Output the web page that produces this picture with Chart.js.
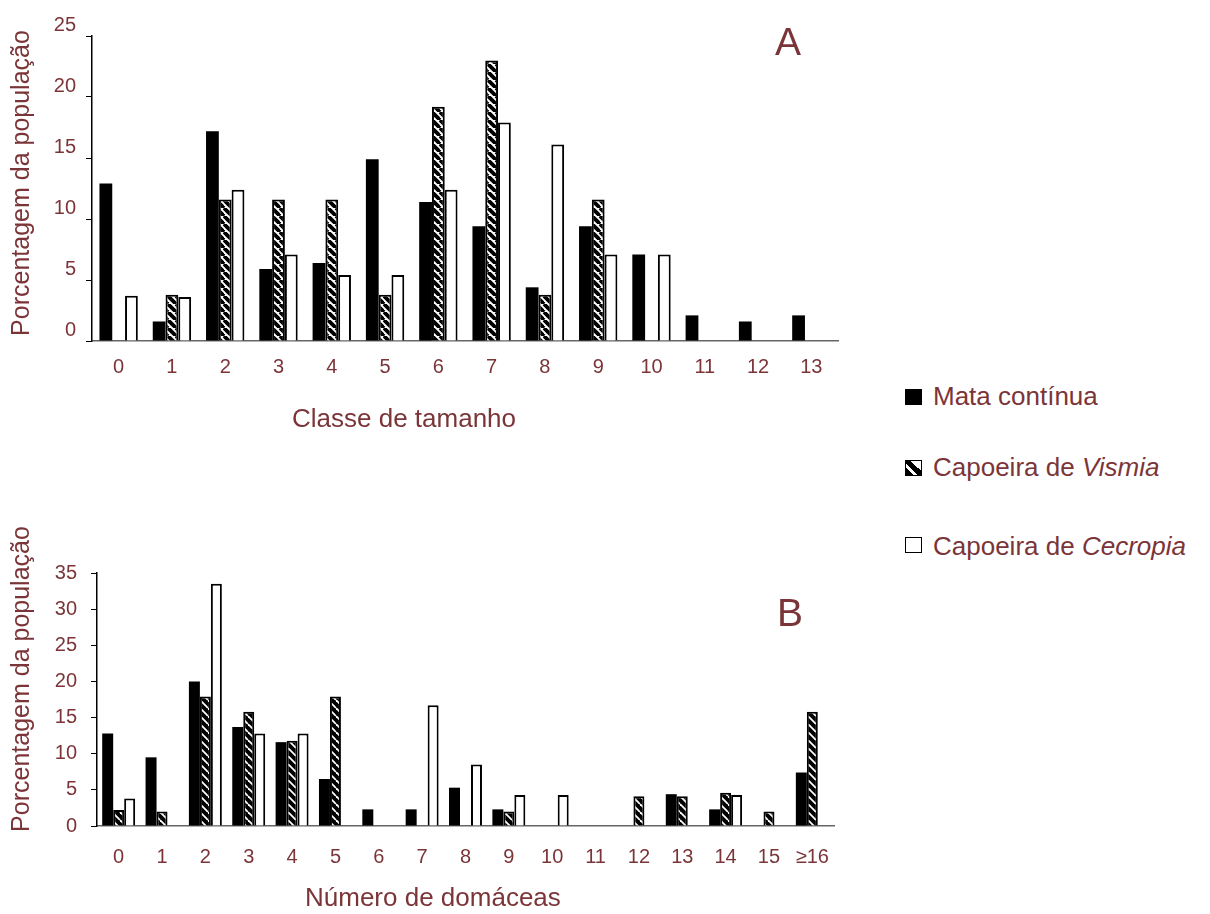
<!DOCTYPE html>
<html><head><meta charset="utf-8">
<script src="https://cdn.jsdelivr.net/npm/chart.js@4"></script>
<style>
html,body{margin:0;padding:0;background:#fff;width:1210px;height:914px;overflow:hidden;font-family:'Liberation Sans',Arial,sans-serif;}
#c1{position:absolute;left:0;top:0;}
#c2{position:absolute;left:0;top:500px;}
.leg{position:absolute;left:933px;font-size:26px;line-height:30px;color:#7b3538;white-space:nowrap;}
.sw{position:absolute;left:905px;width:17px;height:16px;box-sizing:border-box;border:1.5px solid #000;}
</style></head>
<body>
<canvas id="c1" width="880" height="440"></canvas>
<canvas id="c2" width="880" height="414"></canvas>

<div class="sw" style="top:389px;background:#000;"></div>
<div class="leg" style="top:381px;">Mata contínua</div>
<div class="sw" style="top:460px;background:linear-gradient(to top right,#000 0 25%,#fff 25% 40%,#000 40% 65%,#fff 65%);"></div>
<div class="leg" style="top:452px;">Capoeira de <i>Vismia</i></div>
<div class="sw" style="top:537px;background:#fff;"></div>
<div class="leg" style="top:531px;">Capoeira de <i>Cecropia</i></div>

<script>
// ---- Panel A: Classe de tamanho ----
const categoriesA = ['0','1','2','3','4','5','6','7','8','9','10','11','12','13'];
const mataA     = [12.9, 1.6, 17.2, 5.9, 6.4, 14.9, 11.4, 9.4, 4.4, 9.4, 7.1, 2.1, 1.6, 2.1];
const vismiaA   = [null, 3.8, 11.6, 11.6, 11.6, 3.8, 19.2, 23.0, 3.8, 11.6, null, null, null, null];
const cecropiaA = [3.7, 3.6, 12.4, 7.1, 5.4, 5.4, 12.4, 17.9, 16.1, 7.1, 7.1, null, null, null];
const yTicksA   = [0, 5, 10, 15, 20, 25];

// ---- Panel B: Número de domáceas ----
const categoriesB = ['0','1','2','3','4','5','6','7','8','9','10','11','12','13','14','15','≥16'];
const mataB     = [12.8, 9.5, 20.0, 13.7, 11.6, 6.5, 2.3, 2.3, 5.3, 2.3, null, null, null, 4.4, 2.3, null, 7.4];
const vismiaB   = [2.2, 2.0, 17.9, 15.8, 11.8, 17.9, null, null, null, 2.0, null, null, 4.1, 4.1, 4.6, 2.0, 15.8];
const cecropiaB = [3.8, null, 33.5, 12.8, 12.8, null, null, 16.7, 8.5, 4.3, 4.3, null, null, null, 4.3, null, null];
const yTicksB   = [0, 5, 10, 15, 20, 25, 30, 35];

const seriesNames = ['Mata contínua', 'Capoeira de Vismia', 'Capoeira de Cecropia'];
const yTitle = 'Porcentagem da população';
const xTitleA = 'Classe de tamanho';
const xTitleB = 'Número de domáceas';

const MAROON = '#7b3538';
const FONT = "'Liberation Sans', Arial, sans-serif";

function makePattern(bg, fg, size, lw) {
  const c = document.createElement('canvas');
  c.width = size; c.height = size;
  const g = c.getContext('2d');
  g.fillStyle = bg; g.fillRect(0, 0, size, size);
  g.strokeStyle = fg; g.lineWidth = lw;
  for (const o of [-size, 0, size]) {
    g.beginPath(); g.moveTo(o, 0); g.lineTo(o + size, size); g.stroke();
  }
  return g.createPattern(c, 'repeat');
}

const textPlugin = {
  id: 'panelText',
  afterDraw(chart, args, opts) {
    const ctx = chart.ctx;
    for (const t of opts.items || []) {
      ctx.save();
      ctx.font = t.font;
      ctx.fillStyle = MAROON;
      ctx.textAlign = t.align || 'left';
      ctx.textBaseline = 'alphabetic';
      ctx.translate(t.x, t.y);
      if (t.rot) ctx.rotate(t.rot);
      ctx.fillText(t.text, 0, 0);
      ctx.restore();
    }
  }
};

function build(id, cats, mata, vismia, cecropia, yTicks, g) {
  const hatch = makePattern(g.hatchBg, g.hatchFg, g.hatchSize, g.hatchLw);
  return new Chart(document.getElementById(id), {
    type: 'bar',
    data: {
      labels: cats,
      datasets: [
        { label: seriesNames[0], data: mata, backgroundColor: '#000', borderWidth: 0 },
        { label: seriesNames[1], data: vismia, backgroundColor: hatch, borderColor: '#000', borderWidth: 2 },
        { label: seriesNames[2], data: cecropia, backgroundColor: '#fff', borderColor: '#000', borderWidth: 2 }
      ]
    },
    options: {
      responsive: false,
      animation: false,
      devicePixelRatio: 1,
      datasets: { bar: { categoryPercentage: g.catPct, barPercentage: 1.0 } },
      layout: { padding: { top: g.padTop, right: g.padRight, left: 0, bottom: 0 } },
      plugins: {
        legend: { display: false },
        tooltip: { enabled: false },
        panelText: { items: g.texts }
      },
      scales: {
        x: {
          grid: { display: false, drawTicks: false },
          border: { display: true, color: '#666', width: 1.5 },
          ticks: { color: MAROON, font: { family: FONT, size: 20 }, padding: g.xPad, maxRotation: 0, autoSkip: false },
          afterFit: s => { s.height = g.xHeight; }
        },
        y: {
          min: yTicks[0], max: yTicks[yTicks.length - 1],
          afterBuildTicks: s => { s.ticks = yTicks.map(v => ({ value: v })); },
          grid: { drawOnChartArea: false, drawTicks: true, tickLength: 6, color: '#000' },
          border: { display: true, color: '#000', width: 1.5 },
          ticks: { color: MAROON, font: { family: FONT, size: 20 }, padding: g.yPad, labelOffset: g.labelOffset },
          afterFit: s => { s.width = g.yWidth; }
        }
      }
    },
    plugins: [textPlugin]
  });
}

build('c1', categoriesA, mataA, vismiaA, cecropiaA, yTicksA, {
  hatchBg: '#fff', hatchFg: '#000', hatchLw: 3.8, hatchSize: 8,
  catPct: 0.72, padTop: 36, padRight: 42, xHeight: 99, yWidth: 92,
  xPad: 14, yPad: 10, labelOffset: -11,
  texts: [
    { text: xTitleA, x: 292, y: 427, font: '26px ' + FONT },
    { text: 'A', x: 775, y: 55, font: '39px ' + FONT },
    { text: yTitle, x: 29, y: 183, font: '25px ' + FONT, align: 'center', rot: -Math.PI / 2 }
  ]
});

build('c2', categoriesB, mataB, vismiaB, cecropiaB, yTicksB, {
  hatchBg: '#000', hatchFg: '#fff', hatchLw: 1.8, hatchSize: 8,
  catPct: 0.76, padTop: 73, padRight: 46, xHeight: 88, yWidth: 97,
  xPad: 19, yPad: 14, labelOffset: 0,
  texts: [
    { text: xTitleB, x: 305, y: 406, font: '26px ' + FONT },
    { text: 'B', x: 777, y: 126, font: '39px ' + FONT },
    { text: yTitle, x: 29, y: 179, font: '25px ' + FONT, align: 'center', rot: -Math.PI / 2 }
  ]
});
</script>
</body></html>
